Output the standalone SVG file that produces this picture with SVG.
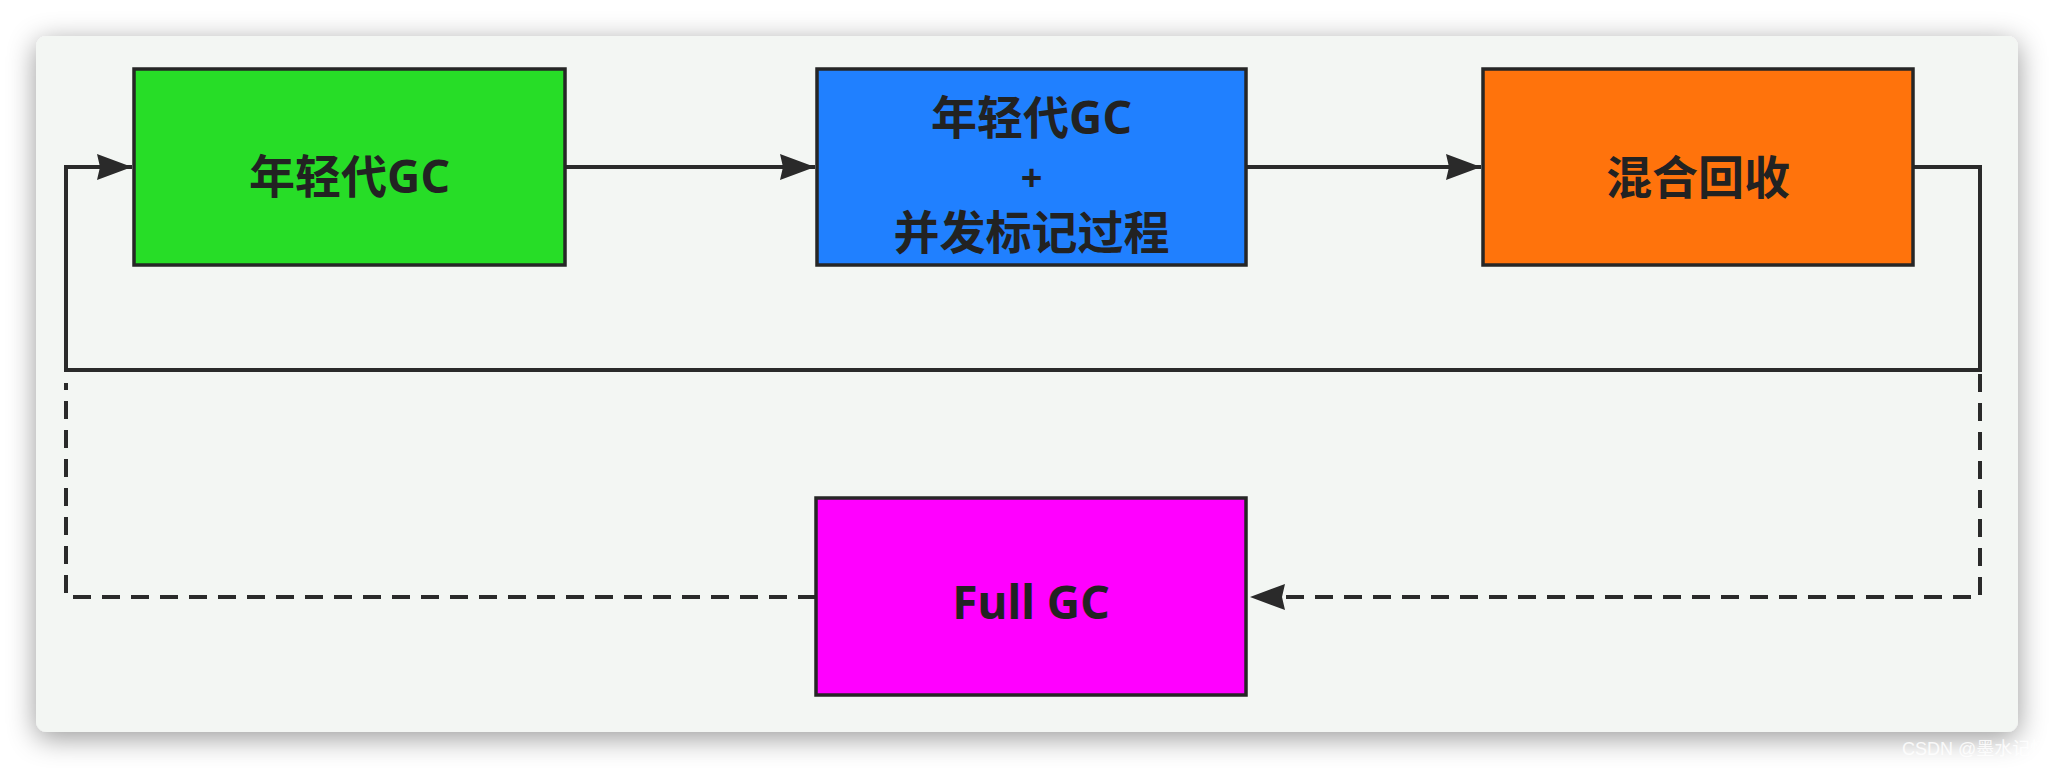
<svg xmlns="http://www.w3.org/2000/svg" width="2054" height="768" viewBox="0 0 2054 768">
  <style>
    .node { stroke: #262626; stroke-width: 3.5; }
    .label { font-family: "Noto Sans", "Noto Sans CJK SC", sans-serif; font-weight: bold; font-size: 46px; fill: #222222; text-anchor: middle; }
    .plus { font-size: 38px; }
    .edge { fill: none; stroke: #2a2a2a; stroke-width: 4; }
    .dashed { stroke-dasharray: 18 11; }
    .wm { font-family: "Liberation Sans", "Noto Sans CJK SC", sans-serif; font-size: 18px; fill: #ffffff; fill-opacity: 0.85; }
  </style>
  <defs>
    <filter id="shadow" x="-5%" y="-20%" width="110%" height="140%">
      <feDropShadow dx="0" dy="6" stdDeviation="14" flood-color="#000000" flood-opacity="0.4"/>
    </filter>
    <marker id="arrow" markerUnits="userSpaceOnUse" markerWidth="40" markerHeight="30" viewBox="-37 -15 40 30" refX="0" refY="0" orient="auto">
      <path d="M0,0 L-35,-13 L-32,0 L-35,13 Z" fill="#2a2a2a"/>
    </marker>
  </defs>
  <rect x="0" y="0" width="2054" height="768" fill="#ffffff"/>
  <rect x="36" y="36" width="1982" height="696" rx="11" ry="11" fill="#f3f6f3" filter="url(#shadow)"/>

  <g id="connectors">
    <path class="edge" d="M565,167 H815" marker-end="url(#arrow)"/>
    <path class="edge" d="M1246,167 H1481" marker-end="url(#arrow)"/>
    <path class="edge" d="M1913,167 H1980 V370 H66 V167 H132" marker-end="url(#arrow)"/>
    <path class="edge dashed" d="M1980,374 V597 H1250" marker-end="url(#arrow)"/>
    <path class="edge dashed" d="M816,597 H66 V383"/>
  </g>

  <g id="young-gc">
    <rect class="node" x="134" y="69" width="431" height="196" fill="#27dd27"/>
    <text class="label" x="349.5" y="192.5">年轻代GC</text>
  </g>
  <g id="young-gc-concurrent-mark">
    <rect class="node" x="817" y="69" width="429" height="196" fill="#2080ff"/>
    <text class="label" x="1031.5" y="134">年轻代GC</text>
    <text class="label plus" x="1031.5" y="191">+</text>
    <text class="label" x="1031.5" y="249">并发标记过程</text>
  </g>
  <g id="mixed-gc">
    <rect class="node" x="1483" y="69" width="430" height="196" fill="#ff730c"/>
    <text class="label" x="1698" y="193.5">混合回收</text>
  </g>
  <g id="full-gc">
    <rect class="node" x="816" y="498" width="430" height="197" fill="#ff00ff"/>
    <text class="label" x="1031" y="619">Full GC</text>
  </g>

  <text class="wm" x="1902" y="755">CSDN @墨水记忆</text>
</svg>
